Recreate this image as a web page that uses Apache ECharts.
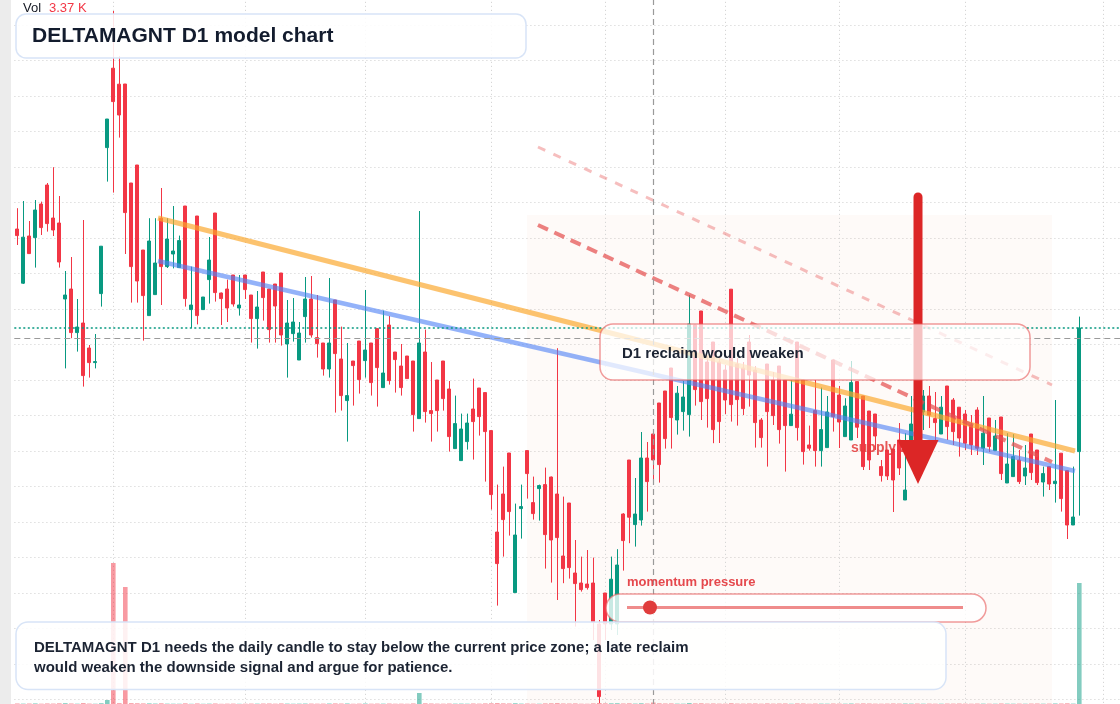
<!DOCTYPE html>
<html><head><meta charset="utf-8">
<script src="https://cdn.jsdelivr.net/npm/echarts@6/dist/echarts.min.js"></script>
<style>html,body{margin:0;padding:0;background:#fff;overflow:hidden}#c{width:1120px;height:704px}</style>
</head><body><div id="c"></div>
<script>
// ---- data ----
const months = ['2024-09','2024-10','2024-11','2024-12','2025-01','2025-02','2025-03','2025-04','2025-05','2025-06'];
const sessionsPerMonth = [16,22,20,21,19,20,19,21,23,4]; // last month: empty future slots
// [open, close, low, high]
const ohlc = [
[253.0,249.7,245.0,263.4],[225.9,248.9,225.5,267.0],[249.5,240.7,240.5,257.0],[248.7,262.5,233.7,267.5],[265.5,253.7,250.0,266.7],
[275.0,255.7,251.7,276.0],[258.5,252.5,249.5,283.9],[256.0,236.5,233.7,269.5],[218.0,220.0,183.3,232.0],[223.0,201.2,198.4,239.0],
[201.2,204.0,191.7,218.0],[206.0,179.7,174.2,257.5],[193.5,186.2,178.7,195.0],[186.2,186.7,183.3,200.5],[220.7,244.4,214.2,244.5],
[293.7,308.0,276.7,308.0],[333.4,316.7,271.2,362.0],[325.4,310.0,298.7,339.5],[325.5,261.2,240.5,325.5],[276.0,234.2,216.2,276.0],
[285.0,227.0,216.2,285.0],[242.5,219.7,197.2,242.5],[209.7,247.0,209.7,258.4],[220.2,236.0,220.2,258.4],[258.4,234.2,215.0,273.5],
[234.2,248.0,233.5,258.4],[240.5,242.0,233.3,264.5],[233.7,247.2,233.7,249.7],[264.5,218.2,214.2,264.5],[212.7,215.0,203.4,234.2],
[259.5,209.7,205.3,259.5],[212.7,219.0,212.7,219.0],[227.7,237.5,215.7,249.0],[261.0,221.2,216.7,261.0],[221.0,218.2,205.0,221.2],
[223.0,213.5,206.5,227.7],[230.0,215.5,214.2,230.0],[213.5,215.0,209.7,230.0],[230.0,222.7,218.0,230.0],[220.0,208.2,196.2,220.0],
[208.2,214.0,193.2,222.0],[231.5,218.7,207.2,231.5],[223.0,202.7,196.2,223.0],[225.5,214.5,196.2,225.5],[231.0,200.0,194.7,231.0],
[195.5,206.0,178.7,217.5],[200.7,206.5,196.7,218.5],[187.5,201.0,187.5,206.5],[209.2,218.0,196.2,229.0],[218.0,200.0,198.7,229.5],
[198.7,195.7,188.7,220.0],[196.0,183.0,179.7,196.0],[183.0,196.0,178.7,228.5],[217.5,190.7,161.2,217.5],[188.0,169.7,162.2,204.2],
[167.2,169.7,146.7,196.0],[187.0,184.7,164.7,187.0],[197.0,177.7,170.7,197.0],[187.2,192.5,178.7,222.5],[196.0,176.2,169.7,196.0],
[203.2,183.7,164.2,203.2],[173.7,181.0,173.7,212.2],[205.0,177.2,175.2,209.5],[191.5,187.7,171.2,191.5],[184.5,173.7,169.7,195.5],
[189.5,178.2,178.2,189.5],[187.0,160.2,151.7,187.0],[158.2,196.0,158.2,262.0],[191.5,161.7,156.2,202.7],[162.2,160.7,146.7,186.5],
[177.5,162.2,151.7,177.5],[187.0,168.2,162.2,187.0],[173.0,149.2,141.7,177.0],[143.2,155.7,143.2,169.7],[137.2,153.0,137.2,160.7],
[146.7,156.0,142.7,160.7],[163.0,156.7,137.7,178.2],[173.5,159.2,149.7,173.5],[171.2,151.7,126.7,171.2],[152.2,120.2,112.7,152.2],
[101.5,85.7,64.7,125.2],[120.5,107.7,89.2,134.2],[141.0,111.7,99.7,141.0],[71.2,100.0,71.2,115.7],[113.2,114.2,98.2,125.2],
[142.2,130.7,118.2,142.2],[116.2,110.7,107.7,129.2],[123.2,124.7,107.2,125.2],[125.2,100.2,83.2,133.7],[129.0,97.5,76.2,129.2],
[120.5,98.7,67.5,193.4],[89.5,83.2,75.9,119.2],[116.0,83.7,78.2,116.0],[81.0,75.7,54.2,97.5],[76.0,72.7,71.7,89.2],
[75.5,73.7,72.7,92.5],[76.0,56.5,47.5,88.7],[55.5,19.2,16.0,57.5],[71.0,55.5,47.5,71.0],[55.5,77.9,52.5,89.2],
[55.5,85.0,50.0,92.9],[110.5,97.2,82.2,110.9],[137.5,108.9,95.9,137.5],[105.2,110.5,94.2,128.5],[107.5,138.5,104.7,151.5],
[138.5,126.7,111.7,146.5],[150.5,137.5,125.0,150.5],[166.0,135.2,126.2,166.0],[172.0,148.2,143.2,172.0],[183.5,158.7,143.2,183.5],
[157.5,170.9,150.2,174.5],[161.7,169.0,152.2,177.0],[160.2,205.5,149.2,220.0],[205.0,172.7,164.7,205.0],[212.0,166.7,157.5,212.0],
[186.5,168.2,153.7,189.5],[196.5,152.7,145.9,196.5],[186.5,156.7,146.0,189.0],[182.5,167.5,160.5,185.0],[222.9,165.2,156.7,222.9],
[185.5,167.7,154.7,188.5],[183.5,163.2,160.0,186.5],[196.5,180.0,164.2,200.0],[182.5,156.2,143.7,184.5],[157.5,148.7,143.7,158.5],
[185.5,161.7,134.2,185.5],[177.5,159.7,155.0,181.5],[184.5,152.7,145.7,184.5],[177.5,154.7,131.7,177.5],[154.7,160.4,154.7,177.5],
[196.5,153.7,147.2,196.5],[177.5,141.7,135.2,177.5],[145.0,143.4,142.2,154.7],[162.2,142.2,134.2,177.5],[142.2,152.7,134.2,173.7],
[143.7,161.5,143.7,169.5],[187.5,159.2,151.7,187.5],[170.0,156.5,143.5,174.5],[149.2,164.5,149.2,168.4],[147.5,176.2,147.5,187.0],
[176.7,153.9,148.5,176.7],[169.5,134.2,132.5,169.5],[162.0,137.5,132.5,162.0],[160.5,149.5,142.5,160.5],[134.2,129.7,126.7,137.5],
[142.5,129.5,127.5,142.5],[143.0,127.5,111.5,143.0],[147.5,133.5,130.0,156.0],[117.5,122.5,117.5,150.9],[142.5,155.5,142.5,169.5],
[168.5,152.5,147.5,172.5],[161.5,169.5,152.5,172.5],[169.5,160.0,153.5,174.5],[158.2,156.2,147.5,171.5],[150.5,163.9,150.5,169.5],
[174.5,154.2,147.5,174.5],[167.5,151.7,145.0,168.5],[163.9,148.5,139.2,163.9],[160.5,145.9,142.5,162.5],[155.0,145.0,140.0,160.0],
[162.5,143.4,140.0,163.9],[143.4,150.9,135.0,169.5],[158.5,144.2,141.5,158.5],[142.2,149.5,142.2,157.5],[159.0,130.7,127.5,159.0],
[126.0,135.5,126.0,150.9],[129.2,139.2,129.2,150.4],[137.5,126.7,125.5,142.5],[129.5,133.5,125.0,145.0],[150.5,131.2,127.5,150.5],
[142.5,126.2,125.0,142.5],[126.5,130.7,119.2,134.2],[134.2,125.5,122.5,134.2],[125.7,126.9,116.2,167.5],[140.9,118.2,111.7,140.9],
[132.2,105.0,98.0,132.2],[105.0,109.0,105.0,134.2],[141.7,203.5,109.7,209.2]
];
// volume in thousands
const volumes = [
1.2,0.9,1.1,1.4,0.8,1.3,1.0,1.6,1.9,1.2,
0.8,2.1,1.0,0.7,1.8,9.3,327.6,1.9,271.8,2.0,
1.7,1.4,1.5,1.1,1.6,0.9,0.8,0.7,1.5,0.6,
1.3,0.6,0.9,1.2,0.5,0.8,0.9,0.6,0.7,1.0,
0.9,1.1,1.2,0.8,1.3,1.0,0.7,0.9,1.1,1.0,
0.8,0.9,1.2,1.4,1.1,1.3,0.6,0.9,1.2,0.8,
1.0,0.9,1.1,0.7,0.8,0.6,1.3,25.6,1.6,1.2,
0.9,0.8,1.1,0.9,1.0,0.8,1.2,0.9,1.4,1.7,
2.1,1.5,1.3,1.8,1.0,1.1,0.8,0.7,1.4,1.6,
2.0,1.2,1.1,1.3,0.7,0.6,1.4,2.2,1.5,1.6,
1.8,1.2,1.5,1.0,1.7,1.1,3.37,1.6,1.2,1.3,
0.9,0.8,2.1,1.4,1.6,1.0,1.2,0.9,0.8,1.7,
1.0,0.9,1.1,1.2,0.8,1.3,0.9,1.1,1.2,0.7,
1.3,1.2,0.6,1.0,0.9,0.8,1.1,0.9,0.8,1.2,
1.0,1.3,1.1,0.8,0.7,0.9,1.2,1.0,1.1,0.9,
1.0,0.8,0.9,0.7,0.8,1.0,0.9,1.1,0.8,0.7,
1.0,0.9,0.8,0.7,1.2,0.9,0.8,0.9,0.7,1.0,
1.1,0.8,0.9,1.3,1.2,1.6,1.0,281.1
];
const lastPrice = 203.5;
const crosshairPrice = 198.5;
const crosshairIndex = 106;
// drawn lines: [session position, price]
const resistanceLine = [[23.45,258.5],[176.28,142.0]];
const trendLine = [[23.45,237.0],[176.28,132.0]];
const projectionLine = [[86.78,255.0],[172.45,136.5]];
const projectionLineUpper = [[86.78,294.0],[172.45,175.0]];
const zoneRange = [[84.95,260.0],[172.45,0]];

// ---- build ----
const categories = [];
const monthStarts = [];
months.forEach((m, mi) => {
  for (let k = 0; k < sessionsPerMonth[mi]; k++) {
    const label = m + '-' + String(k + 1).padStart(2, '0');
    if (k === 0 && mi > 0) monthStarts.push(label);
    categories.push(label);
  }
});
const UP = '#089981', DOWN = '#f23645';
const GRIDLINE = { color: '#d6d6d6', width: 1, type: [1.2, 2.8] };
const volData = volumes.map((v, i) => ({
  value: v,
  itemStyle: { color: ohlc[i][1] >= ohlc[i][0] ? 'rgba(8,153,129,0.5)' : 'rgba(242,54,69,0.5)' }
}));
const FONT = '"Liberation Sans", Arial, Helvetica, sans-serif';
const chart = echarts.init(document.getElementById('c'), null, { renderer: 'canvas' });
chart.setOption({
  animation: false,
  backgroundColor: '#ffffff',
  grid: { left: 14.3, right: -4.3, top: -10.5, bottom: -31, containLabel: false, outerBoundsMode: 'none' },
  xAxis: [
    { type: 'category', data: categories, boundaryGap: true, show: false },
    { type: 'value', min: -0.5, max: categories.length - 0.5, show: false }
  ],
  yAxis: [
    { type: 'value', min: 0, max: 372.75, interval: 17.75, axisLabel: { show: false }, axisLine: { show: false }, axisTick: { show: false },
      splitLine: { show: true, lineStyle: GRIDLINE } },
    { type: 'value', min: -72.01, max: 1660, show: false, splitLine: { show: false } }
  ],
  series: [
    { name: 'zone', type: 'line', xAxisIndex: 1, yAxisIndex: 0, data: [], z: 0, silent: true,
      markArea: { silent: true, z: 0, itemStyle: { color: 'rgba(240,150,90,0.045)' },
        data: [[{ coord: zoneRange[0] }, { coord: zoneRange[1] }]] } },
    { name: 'Vol', type: 'bar', xAxisIndex: 0, yAxisIndex: 1, data: volData, barWidth: 4.6, z: 1, silent: true,
      markLine: { silent: true, z: 0, symbol: 'none', label: { show: false },
        lineStyle: GRIDLINE,
        data: monthStarts.map(c => ({ xAxis: c })) } },
    { name: 'DELTAMAGNT', type: 'candlestick', xAxisIndex: 0, yAxisIndex: 0, data: ohlc, barWidth: 3.5, z: 3,
      itemStyle: { color: UP, color0: DOWN, borderColor: UP, borderColor0: DOWN, borderWidth: 1 },
      markLine: { silent: true, symbol: 'none', label: { show: false },
        data: [
          { yAxis: lastPrice, lineStyle: { color: UP, width: 1.5, type: [2, 2.5] } },
          { yAxis: crosshairPrice, lineStyle: { color: '#9a9a9a', width: 1.2, type: [6, 4] } },
          { xAxis: categories[crosshairIndex], lineStyle: { color: '#9a9a9a', width: 1.2, type: [6, 4] } }
        ] } },
    { name: 'resistance', type: 'line', xAxisIndex: 1, yAxisIndex: 0, data: resistanceLine, symbol: 'none', z: 4, silent: true,
      lineStyle: { color: 'rgba(251,167,43,0.68)', width: 5 } },
    { name: 'trend', type: 'line', xAxisIndex: 1, yAxisIndex: 0, data: trendLine, symbol: 'none', z: 4, silent: true,
      lineStyle: { color: 'rgba(80,130,245,0.62)', width: 4.5 } },
    { name: 'projection', type: 'line', xAxisIndex: 1, yAxisIndex: 0, data: projectionLine, symbol: 'none', z: 4, silent: true,
      lineStyle: { color: 'rgba(228,80,80,0.72)', width: 4, type: [11, 7] } },
    { name: 'projectionUpper', type: 'line', xAxisIndex: 1, yAxisIndex: 0, data: projectionLineUpper, symbol: 'none', z: 4, silent: true,
      lineStyle: { color: 'rgba(236,110,110,0.45)', width: 3, type: [8, 9] } }
  ],
  graphic: { elements: [
    { type: 'rect', silent: true, z: 100, shape: { x: 0, y: 0, width: 11, height: 704 }, style: { fill: '#ececec' } },
    { type: 'text', silent: true, z: 100, x: 23, y: 8.5, style: { text: 'Vol', font: '13px ' + FONT, fill: '#131722', verticalAlign: 'middle' } },
    { type: 'text', silent: true, z: 100, x: 49, y: 8.5, style: { text: '3.37 K', font: '13px ' + FONT, fill: '#f23645', verticalAlign: 'middle' } },
    { type: 'text', silent: true, z: 100, x: 851, y: 448, style: { text: 'supply zone', font: 'bold 14px ' + FONT, fill: 'rgba(226,58,58,0.85)', verticalAlign: 'middle' } },
    { type: 'line', silent: true, z: 100, shape: { x1: 918, y1: 197, x2: 918, y2: 446 }, style: { stroke: '#dc2626', lineWidth: 9, lineCap: 'round' } },
    { type: 'polygon', silent: true, z: 100, shape: { points: [[897.5, 440], [938.5, 440], [918, 484]] }, style: { fill: '#dc2626' } },
    { type: 'rect', silent: true, z: 100, shape: { x: 600, y: 324, width: 430, height: 56, r: 13 }, style: { fill: 'rgba(255,255,255,0.72)', stroke: 'rgba(232,90,90,0.6)', lineWidth: 1.5 } },
    { type: 'text', silent: true, z: 100, x: 622, y: 353.5, style: { text: 'D1 reclaim would weaken', font: 'bold 15px ' + FONT, fill: '#1c2433', verticalAlign: 'middle' } },
    { type: 'text', silent: true, z: 100, x: 627, y: 582, style: { text: 'momentum pressure', font: 'bold 13px ' + FONT, fill: '#e5484d', verticalAlign: 'middle' } },
    { type: 'rect', silent: true, z: 100, shape: { x: 606, y: 594, width: 380, height: 28, r: 14 }, style: { fill: 'rgba(255,255,255,0.78)', stroke: 'rgba(232,90,90,0.6)', lineWidth: 1.5 } },
    { type: 'line', silent: true, z: 100, shape: { x1: 627, y1: 607.5, x2: 963, y2: 607.5 }, style: { stroke: 'rgba(232,90,90,0.7)', lineWidth: 3 } },
    { type: 'circle', silent: true, z: 100, shape: { cx: 650, cy: 607.5, r: 7 }, style: { fill: '#e03c3c' } },
    { type: 'rect', silent: true, z: 100, shape: { x: 16, y: 622, width: 930, height: 67.5, r: 12 }, style: { fill: 'rgba(255,255,255,0.86)', stroke: '#d8e4f7', lineWidth: 1.5 } },
    { type: 'text', silent: true, z: 100, x: 34, y: 648, style: { text: 'DELTAMAGNT D1 needs the daily candle to stay below the current price zone; a late reclaim', font: 'bold 15px ' + FONT, fill: '#1c2433', verticalAlign: 'middle' } },
    { type: 'text', silent: true, z: 100, x: 34, y: 668, style: { text: 'would weaken the downside signal and argue for patience.', font: 'bold 15px ' + FONT, fill: '#1c2433', verticalAlign: 'middle' } },
    { type: 'rect', silent: true, z: 100, shape: { x: 16, y: 14, width: 510, height: 44, r: 10 }, style: { fill: 'rgba(255,255,255,0.88)', stroke: '#d8e4f7', lineWidth: 1.5 } },
    { type: 'text', silent: true, z: 100, x: 32, y: 36, style: { text: 'DELTAMAGNT D1 model chart', font: 'bold 21px ' + FONT, fill: '#131c2e', verticalAlign: 'middle' } }
  ] }
});
</script>
</body></html>
